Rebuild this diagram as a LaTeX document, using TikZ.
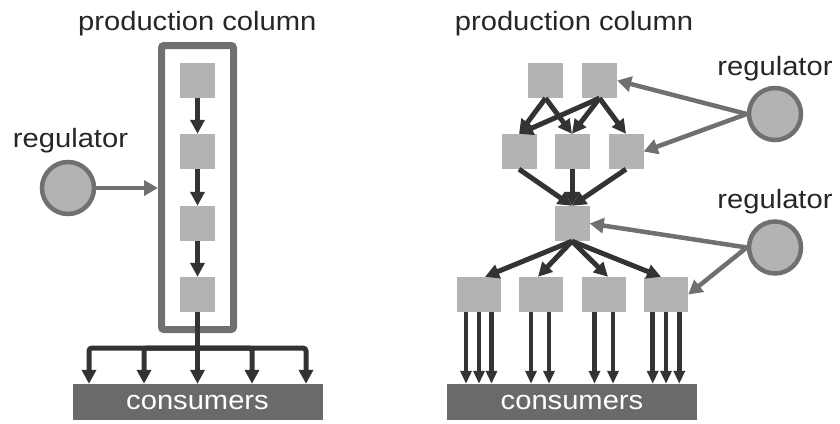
\documentclass[tikz,border=0pt]{standalone}
\usepackage{fontspec}
\setmainfont{Liberation Sans}[FakeStretch=1.1]
\usetikzlibrary{arrows.meta}
\definecolor{boxgray}{HTML}{B3B3B3}
\definecolor{framegray}{HTML}{707070}
\definecolor{flowdark}{HTML}{333333}
\definecolor{sinkgray}{HTML}{6A6A6A}
\definecolor{textdark}{HTML}{262626}
\tikzset{
  unit/.style={fill=boxgray, minimum width=35pt, minimum height=35pt, inner sep=0pt},
  wideunit/.style={unit, minimum width=44pt},
  column/.style={draw=framegray, line width=7pt, rounded corners=2.5pt, minimum width=72pt, minimum height=284pt, inner sep=0pt},
  reg/.style={circle, draw=framegray, fill=boxgray, line width=4.5pt, minimum size=52pt, inner sep=0pt},
  sink/.style={fill=sinkgray, text=white, font=\fontsize{26.5}{30}\selectfont, minimum width=250pt, minimum height=36pt, inner sep=0pt},
  caption/.style={text=textdark, font=\fontsize{26.5}{30}\selectfont, anchor=base, inner sep=0pt},
  flow/.style={draw=flowdark, line width=5pt, -{Triangle[width=14pt,length=14pt]}},
  drop/.style={flow, line width=4.5pt, -{Triangle[width=11pt,length=13pt]}},
  ctrl/.style={draw=framegray, line width=4.5pt, -{Triangle[width=15pt,length=14pt]}},
}

\begin{document}
\begin{tikzpicture}[x=1pt,y=-1pt]
      \useasboundingbox (0,0) rectangle (840,423);
      % left: one column
      \node[caption] (title-l) at (197.3,30.7) {production column};
      \node[column] (col) at (197.5,187.5) {};
      \node[unit] (s1) at (197.5,80.5) {};
      \node[unit] (s2) at (197.5,151.5) {};
      \node[unit] (s3) at (197.5,223.5) {};
      \node[unit] (s4) at (197.5,294.5) {};
      \foreach \a/\b in {s1/s2,s2/s3,s3/s4}
        \draw[flow] (\a) -- (\b);
      % left regulator
      \node[caption] (cap-reg-l) at (70.5,147) {regulator};
      \node[reg] (reg-l) at (68,188) {};
      \draw[ctrl] (reg-l.east) -- (reg-l.east -| col.west);
      % left consumers
      \node[sink] (cons-l) at (197.5,402) {consumers};
      \coordinate (bus) at (197.5,348);
      \draw[flow] (s4) -- (s4 |- cons-l.north);
      \foreach \dx in {-108.5,-53.5,54.5,108.5}
        \draw[flow, rounded corners=3pt] (bus) -| ([xshift=\dx pt]cons-l.north);
      % right: branching column
      \node[caption] (title-r) at (574,30.7) {production column};
      \node[unit] (a1) at (545.5,80.5) {};
      \node[unit] (a2) at (599.5,80.5) {};
      \node[unit] (m1) at (519,151.5) {};
      \node[unit] (m2) at (572,151.5) {};
      \node[unit] (m3) at (626,151.5) {};
      \node[unit] (hub) at (572,223.5) {};
      \node[wideunit] (b1) at (478.5,294.5) {};
      \node[wideunit] (b2) at (541,294.5) {};
      \node[wideunit] (b3) at (604,294.5) {};
      \node[wideunit] (b4) at (666,294.5) {};
      \foreach \a/\b in {a1/m1,a1/m2,a2/m1,a2/m2,a2/m3}
        \draw[flow] (\a.south) -- (\b.north);
      \foreach \a in {m1,m2,m3}
        \draw[flow] (\a.south) -- (hub.north);
      \foreach \b/\dx in {b1/6.5,b2/-3,b3/4,b4/-5}
        \draw[flow] (hub.south) -- ([xshift=\dx pt]\b.north);
      % right consumers
      \node[sink] (cons-r) at (572,402) {consumers};
      \foreach \b/\dx in {b1/-12.5,b1/0.5,b1/13,b2/-10,b2/8,b3/-9.5,b3/9,b4/-13.3,b4/0,b4/13.3}
        \draw[drop] ([xshift=\dx pt]\b.south) -- ([xshift=\dx pt]\b.south |- cons-r.north);
      % right regulators
      \node[caption] (cap-reg-1) at (775,75) {regulator};
      \node[reg] (reg-1) at (775,114) {};
      \node[caption] (cap-reg-2) at (775,208) {regulator};
      \node[reg] (reg-2) at (775,247.5) {};
      \draw[ctrl] (reg-1.west) -- (a2.east);
      \draw[ctrl] (reg-1.west) -- (m3.east);
      \draw[ctrl] (reg-2.west) -- (hub.east);
      \draw[ctrl] (reg-2.west) -- (b4.east);
\end{tikzpicture}
\end{document}
